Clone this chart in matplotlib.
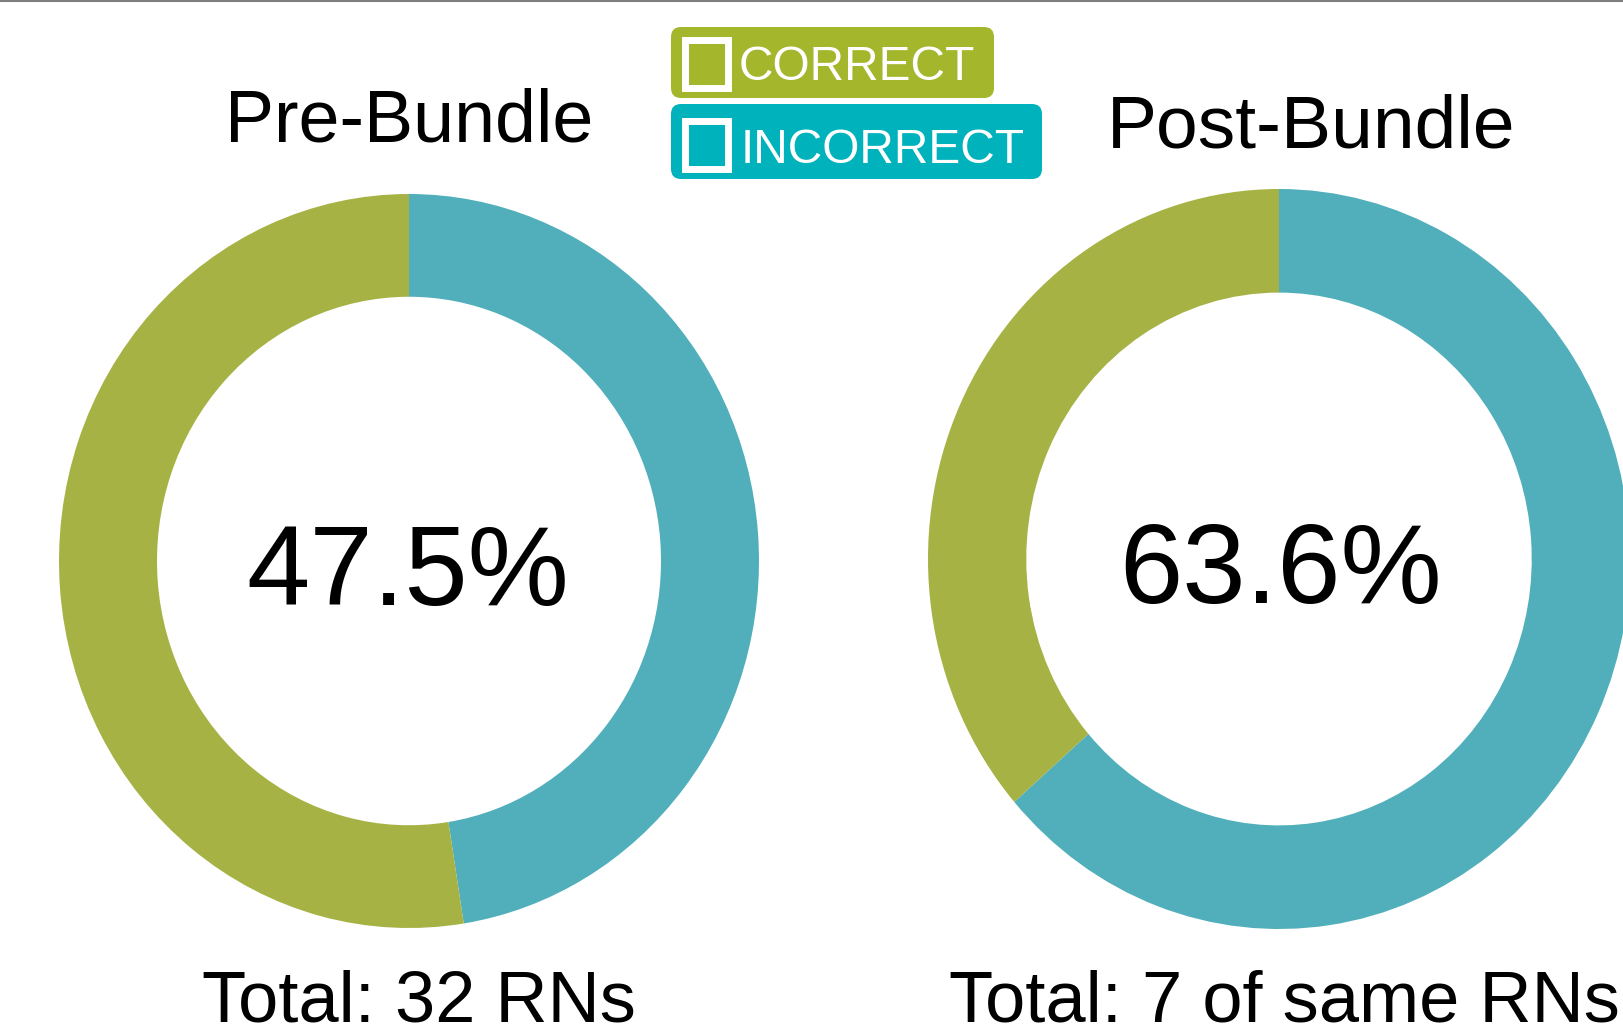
import matplotlib
matplotlib.use("Agg")
import matplotlib.pyplot as plt
from matplotlib.patches import FancyBboxPatch, Rectangle
from matplotlib.lines import Line2D

W, H = 1624, 1026

PANELS = ["Pre-Bundle", "Post-Bundle"]
INCORRECT_PCT = [47.5, 63.6]
CORRECT_PCT = [52.5, 36.4]
CENTER_LABELS = ["47.5%", "63.6%"]
TOTAL_LABELS = ["Total: 32 RNs", "Total: 7 of same RNs"]
LEGEND_LABELS = ["CORRECT", "INCORRECT"]

DONUT_GREEN = "#a6b244"
DONUT_TEAL = "#50afba"
LEGEND_GREEN = "#a4b62b"
LEGEND_TEAL = "#00b2bb"

FONT = ["Liberation Sans", "DejaVu Sans"]


def py(y):
    # pixel row from the top -> overlay y
    return H - y


def add_donut(fig, cx, cy, rx, ry, incorrect, correct):
    ax = fig.add_axes([(cx - rx) / W, (H - cy - ry) / H, 2 * rx / W, 2 * ry / H])
    ax.pie(
        [incorrect, correct],
        colors=[DONUT_TEAL, DONUT_GREEN],
        startangle=90,
        counterclock=False,
        radius=1,
        wedgeprops=dict(width=0.28, linewidth=0),
    )
    ax.set_aspect("auto")
    ax.set_xlim(-1, 1)
    ax.set_ylim(-1, 1)
    ax.axis("off")
    return ax


def add_legend_box(ax, x0, y0, x1, y1, color, sq, label, tx, ty, size):
    box = FancyBboxPatch(
        (x0 + 10, py(y1) + 10), (x1 - x0) - 20, (y1 - y0) - 20,
        boxstyle="round,pad=10,rounding_size=10",
        facecolor=color, edgecolor="none",
    )
    ax.add_patch(box)
    sx0, sy0, sx1, sy1 = sq
    ax.add_patch(Rectangle((sx0 + 3.5, py(sy1) + 3.5), sx1 - sx0 - 7, sy1 - sy0 - 7,
                           facecolor="none", edgecolor="white", linewidth=5))
    ax.text(tx, py(ty), label, color="white", fontsize=size, family=FONT,
            ha="left", va="baseline")


def main():
    fig = plt.figure(figsize=(W / 100, H / 100), dpi=100)
    fig.patch.set_facecolor("white")

    add_donut(fig, 409, 561, 350, 367, INCORRECT_PCT[0], CORRECT_PCT[0])
    add_donut(fig, 1279, 559, 351, 370, INCORRECT_PCT[1], CORRECT_PCT[1])

    ov = fig.add_axes([0, 0, 1, 1])
    ov.set_xlim(0, W)
    ov.set_ylim(0, H)
    ov.axis("off")

    # titles
    ov.text(409, py(141), PANELS[0], fontsize=53, family=FONT, ha="center", va="baseline")
    ov.text(1311, py(147), PANELS[1], fontsize=54, family=FONT, ha="center", va="baseline")

    # centre percentages
    ov.text(408, py(605), CENTER_LABELS[0], fontsize=82, family=FONT, ha="center", va="baseline")
    ov.text(1281, py(603), CENTER_LABELS[1], fontsize=82, family=FONT, ha="center", va="baseline")

    # totals
    ov.text(419, py(1021), TOTAL_LABELS[0], fontsize=52, family=FONT, ha="center", va="baseline")
    ov.text(949, py(1021), TOTAL_LABELS[1], fontsize=52, family=FONT, ha="left", va="baseline")

    # legend
    add_legend_box(ov, 671, 27, 994, 98, LEGEND_GREEN, (682, 36, 732, 91),
                   LEGEND_LABELS[0], 739, 80, 34.5)
    add_legend_box(ov, 671, 104, 1042, 179, LEGEND_TEAL, (682, 117, 732, 172),
                   LEGEND_LABELS[1], 741, 163, 34.5)

    # thin grey rule along the top edge
    fig.add_artist(Line2D([0, 1], [1 - 1 / H, 1 - 1 / H], color="#7f7f7f", linewidth=1.5,
                          transform=fig.transFigure))

    fig.savefig("out.png", dpi=100)


if __name__ == "__main__":
    main()
